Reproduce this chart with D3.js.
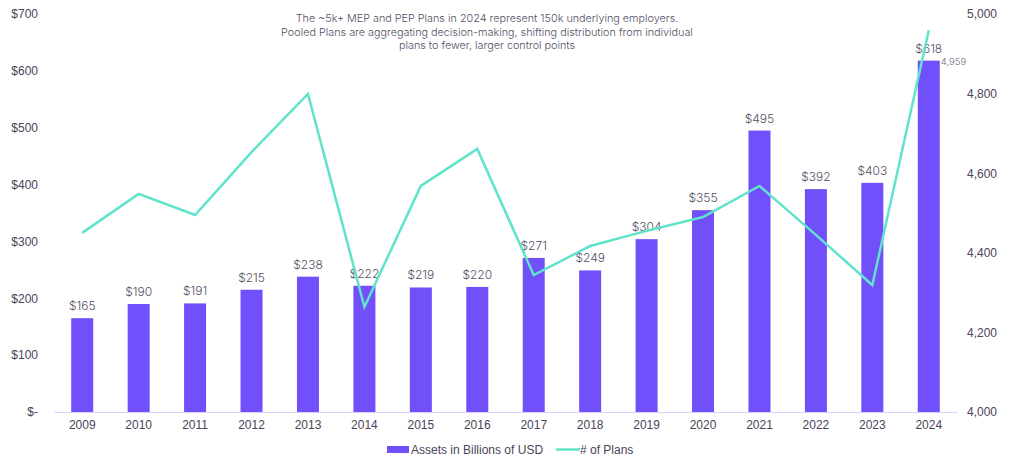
<!DOCTYPE html>
<html><head><meta charset="utf-8">
<script src="https://cdn.jsdelivr.net/npm/d3@7/dist/d3.min.js"></script>
<style>body{margin:0;background:#fff}svg{display:block}</style>
</head><body><svg id="c" width="1024" height="466"></svg>
<script>
const years = ["2009","2010","2011","2012","2013","2014","2015","2016","2017","2018","2019","2020","2021","2022","2023","2024"];
const assets = [165,190,191,215,238,222,219,220,271,249,304,355,495,392,403,618];
const plans = [4450,4548,4495,4653,4799,4264,4568,4661,4344,4417,4455,4490,4568,4445,4319,4959];
const leftTicks = [0,100,200,300,400,500,600,700];
const rightTicks = [4000,4200,4400,4600,4800,5000];
const annotation = ["The ~5k+ MEP and PEP Plans in 2024 represent 150k underlying employers.",
  "Pooled Plans are aggregating decision-making, shifting distribution from individual",
  "plans to fewer, larger control points"];
const legendItems = ["Assets in Billions of USD","# of Plans"];

const svg = d3.select("#c");
const x0 = 54, x1 = 957, yTop = 14, yBot = 412;
const textCol = "#4a4458", lightCol = "#544e64", barCol = "#714ffa", lineCol = "#5fe3cb";
const x = d3.scaleBand().domain(years).range([x0,x1]).paddingInner(0.61).paddingOuter(0.305);
const yL = d3.scaleLinear().domain([0,700]).range([yBot,yTop]);
const yR = d3.scaleLinear().domain([4000,5000]).range([yBot,yTop]);

// left axis
const la = svg.append("g").attr("transform",`translate(${x0},0)`)
  .call(d3.axisLeft(yL).tickValues(leftTicks).tickSize(0).tickPadding(16)
  .tickFormat(d=> d===0 ? "$-" : "$"+d));
la.select(".domain").remove();
la.selectAll("text").attr("font-family","Liberation Sans, Arial").attr("font-size",12).attr("fill",textCol);

// right axis
const ra = svg.append("g").attr("transform",`translate(${x1},0)`)
  .call(d3.axisRight(yR).tickValues(rightTicks).tickSize(0).tickPadding(10)
  .tickFormat(d3.format(",")));
ra.select(".domain").remove();
ra.selectAll("text").attr("font-family","Liberation Sans, Arial").attr("font-size",12).attr("fill",textCol);

// bars
svg.append("g").selectAll("rect").data(assets).join("rect")
  .attr("x",(d,i)=>x(years[i])).attr("width",x.bandwidth())
  .attr("y",d=>yL(d)).attr("height",d=>yBot-yL(d)).attr("fill",barCol);

// x axis
const xa = svg.append("g").attr("transform",`translate(0,${yBot})`)
  .call(d3.axisBottom(x).tickSize(0).tickPadding(8).tickSizeOuter(0));
xa.select(".domain").attr("stroke","#d6cffa").attr("stroke-width",1.2);
xa.selectAll("text").attr("font-family","Liberation Sans, Arial").attr("font-size",12).attr("fill",textCol);

// bar labels
svg.append("g").selectAll("text").data(assets).join("text")
  .attr("x",(d,i)=>x(years[i])+x.bandwidth()/2).attr("y",d=>yL(d)-8)
  .attr("text-anchor","middle").attr("font-family","Inter, sans-serif").attr("font-size",12)
  .attr("font-weight",300).attr("fill",lightCol).text(d=>"$"+d);

// line
const line = d3.line().x((d,i)=>x(years[i])+x.bandwidth()/2).y(d=>yR(d));
svg.append("path").datum(plans).attr("d",line).attr("fill","none")
  .attr("stroke",lineCol).attr("stroke-width",2.5).attr("stroke-linejoin","miter");

// last line value label
const li = plans.length-1;
svg.append("text").attr("x",x(years[li])+x.bandwidth()+1).attr("y",yL(assets[li])+4)
  .attr("font-family","Inter, sans-serif").attr("font-size",9.5).attr("font-weight",300).attr("fill","#6a6478")
  .text(d3.format(",")(plans[li]));

// annotation
svg.append("g").selectAll("text").data(annotation).join("text")
  .attr("x",487).attr("y",(d,i)=>22+i*13.5).attr("text-anchor","middle")
  .attr("font-family","Inter, sans-serif").attr("font-size",10.8).attr("font-weight",300)
  .attr("fill",lightCol).text(d=>d);

// legend
const lg = svg.append("g");
lg.append("rect").attr("x",387).attr("y",446).attr("width",22).attr("height",7).attr("fill",barCol);
lg.append("text").attr("x",411).attr("y",453.5).attr("font-family","Liberation Sans, Arial")
  .attr("font-size",12).attr("fill",textCol).text(legendItems[0]);
lg.append("line").attr("x1",556).attr("x2",580).attr("y1",449.5).attr("y2",449.5)
  .attr("stroke",lineCol).attr("stroke-width",2.5);
lg.append("text").attr("x",580).attr("y",453.5).attr("font-family","Liberation Sans, Arial")
  .attr("font-size",12).attr("fill",textCol).text(legendItems[1]);
</script></body></html>
